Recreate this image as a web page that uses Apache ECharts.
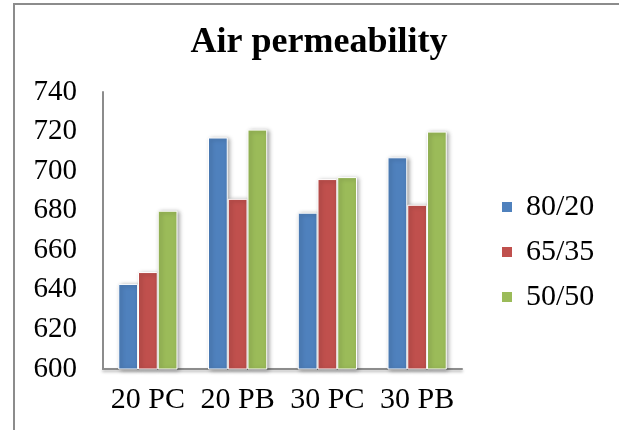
<!DOCTYPE html>
<html>
<head>
<meta charset="utf-8">
<script src="https://cdn.jsdelivr.net/npm/echarts@6/dist/echarts.min.js"></script>
<style>
  html, body { margin: 0; padding: 0; background: #fff; }
  #chart { width: 619px; height: 430px; }
</style>
</head>
<body>
<div id="chart"></div>
<script>
// Air permeability by fabric type and blend ratio
const categories = ['20 PC', '20 PB', '30 PC', '30 PB'];
const seriesNames = ['80/20', '65/35', '50/50'];
const blend8020 = [643, 717, 679, 707];
const blend6535 = [649, 686, 696, 683];
const blend5050 = [680, 721, 697, 720];
const colors = ['#4F81BD', '#C0504D', '#9BBB59'];
const yTicks = [600, 620, 640, 660, 680, 700, 720, 740];

const seriesData = [blend8020, blend6535, blend5050];
const serif = '"Liberation Serif", "Times New Roman", serif';

const chart = echarts.init(document.getElementById('chart'));
chart.setOption({
  animation: false,
  backgroundColor: '#fff',
  title: {
    text: 'Air permeability',
    left: 314,
    top: 20,
    textAlign: 'center',
    textStyle: { fontFamily: serif, fontWeight: 'bold', fontSize: 36, color: '#000' }
  },
  graphic: [{
    type: 'rect',
    shape: { x: 14, y: 4, width: 700, height: 600 },
    style: { fill: 'none', stroke: '#8c8c8c', lineWidth: 2 },
    silent: true
  }],
  legend: {
    orient: 'vertical',
    left: 495,
    top: 187,
    itemWidth: 12,
    itemHeight: 12,
    itemGap: 15,
    icon: 'rect',
    textStyle: { fontFamily: serif, fontSize: 30, color: '#000', padding: [0, 0, 0, 8] },
    data: seriesNames
  },
  grid: { left: 103, right: 157, top: 92, bottom: 61 },
  xAxis: {
    type: 'category',
    data: categories,
    axisLine: { lineStyle: { color: '#8c8c8c', width: 2, shadowColor: 'rgba(0,0,0,0.3)', shadowBlur: 3, shadowOffsetY: 2 } },
    axisTick: { show: false },
    axisLabel: { interval: 0, fontFamily: serif, fontSize: 30, color: '#000', margin: 16 }
  },
  yAxis: {
    type: 'value',
    min: yTicks[0],
    max: yTicks[yTicks.length - 1],
    interval: 20,
    axisLine: { show: true, lineStyle: { color: '#8c8c8c', width: 2 } },
    axisTick: { show: false },
    splitLine: { show: false },
    axisLabel: { fontFamily: serif, fontSize: 29, color: '#000', margin: 26 }
  },
  series: seriesNames.map((name, i) => ({
    name: name,
    type: 'bar',
    data: seriesData[i],
    barGap: '0%',
    barCategoryGap: '34%',
    itemStyle: {
      color: colors[i],
      borderColor: '#fff',
      borderWidth: 1,
      shadowColor: 'rgba(0,0,0,0.35)',
      shadowBlur: 4,
      shadowOffsetX: 2,
      shadowOffsetY: 1
    }
  }))
});
</script>
</body>
</html>
